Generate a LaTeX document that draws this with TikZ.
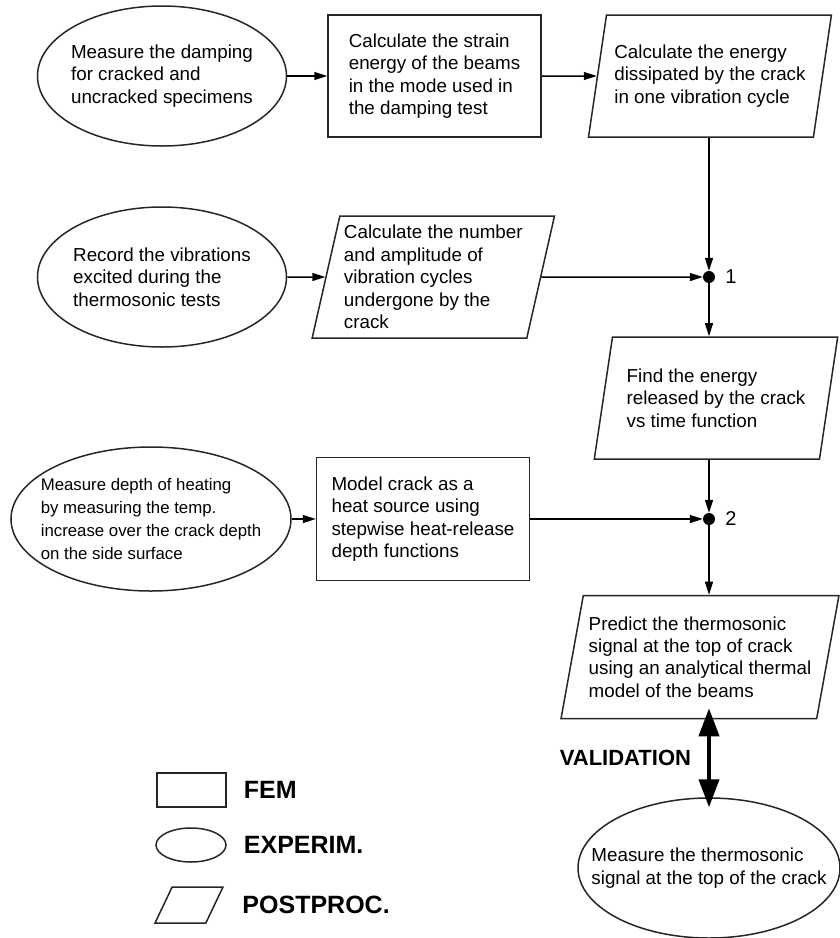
\documentclass[tikz,border=0pt]{standalone}
\usepackage{fontspec}
\setmainfont{Liberation Sans}
\usetikzlibrary{positioning,shapes.geometric,arrows.meta}
\tikzstyle{FemBox}=[rectangle, draw=black!85, line width=1.5pt, minimum width=213pt, minimum height=122pt, align=left, font=\fontsize{18.8}{22.4}\selectfont]
\tikzstyle{ExpOval}=[ellipse, draw=black!85, line width=1.5pt, minimum width=249pt, minimum height=140pt, inner xsep=-26pt, inner ysep=0pt, align=left, font=\fontsize{18.8}{22.4}\selectfont]
\tikzstyle{PostPara}=[trapezium, trapezium left angle=76, trapezium right angle=104, trapezium stretches=true, draw=black!85, line width=1.5pt, minimum width=243pt, minimum height=122pt, align=left, font=\fontsize{18.8}{22.4}\selectfont]
\tikzstyle{Junction}=[circle, fill=black, inner sep=0pt, minimum size=12pt]
\tikzstyle{JunctionNum}=[inner sep=0pt, font=\fontsize{20}{24}\selectfont]
\tikzstyle{Flow}=[-{Triangle[length=13pt,width=8pt]}, line width=1.5pt]
\tikzstyle{Validation}=[{Triangle[length=28pt,width=20pt]}-{Triangle[length=28pt,width=20pt]}, line width=4pt]
\tikzstyle{LegendText}=[inner sep=0pt, font=\fontsize{25}{30}\selectfont\bfseries]

\begin{document}
\begin{tikzpicture}[x=1pt,y=1pt]
			\useasboundingbox (0,0) rectangle (840,-938);

			%Nodos
			\node[ExpOval]		(damping)		at (162,-76)				{Measure the damping\\for cracked and\\uncracked specimens};
			\node[FemBox]		(strain)		[right=40pt of damping]		{Calculate the strain\\energy of the beams\\in the mode used in\\the damping test};
			\node[PostPara]		(dissipated)	[right=55pt of strain]		{Calculate the energy\\dissipated by the crack\\in one vibration cycle};

			\node[ExpOval]		(vibrations)	at (162,-277)				{Record the vibrations\\excited during the\\thermosonic tests};
			\node[PostPara]		(cycles)		[right=38pt of vibrations]	{Calculate the number\\and amplitude of\\vibration cycles\\undergone by the\\crack};
			\node[Junction]		(join1)			at (709,-277)				{};
			\node[JunctionNum]	(join1num)		[right=10pt of join1]		{1};

			\node[PostPara, minimum width=244pt]	(released)	at (716,-398)	{Find the energy\\released by the crack\\vs time function};

			\node[ExpOval, minimum width=280pt, minimum height=144pt, font=\fontsize{16.8}{22.7}\selectfont]	(heating)	at (151,-519)	{Measure depth of heating\\by measuring the temp.\\increase over the crack depth\\on the side surface};
			\node[FemBox, minimum height=123pt]	(heatsource)	[right=24pt of heating]	{Model crack as a\\heat source using\\stepwise heat-release\\depth functions};
			\node[Junction]		(join2)			at (709,-519)				{};
			\node[JunctionNum]	(join2num)		[right=10pt of join2]		{2};

			\node[PostPara, minimum width=278pt, minimum height=123pt]	(predict)	at (700,-657)	{Predict the thermosonic\\signal at the top of crack\\using an analytical thermal\\model of the beams};
			\node[ExpOval, minimum width=262pt]	(signal)	at (709,-868)	{Measure the thermosonic\\signal at the top of the crack};

			%Leyenda
			\node[FemBox, minimum width=69pt, minimum height=34pt]	(legfem)	at (191.5,-790)	{};
			\node[LegendText]	(legfemtxt)		[right=17pt of legfem]		{FEM};
			\node[ExpOval, minimum width=70pt, minimum height=34pt]	(legexp)	at (191,-845)	{};
			\node[LegendText]	(legexptxt)		[right=17pt of legexp]		{EXPERIM.};
			\node[PostPara, minimum width=68pt, minimum height=36pt, trapezium left angle=63, trapezium right angle=117]	(legpost)	at (189,-905)	{};
			\node[LegendText]	(legposttxt)	[right=27pt of legpost]		{POSTPROC.};

			%Lineas
			\draw[Flow] (damping) -- (strain);
			\draw[Flow] (strain) -- (dissipated);
			\draw[Flow] (vibrations) -- (cycles);
			\draw[Flow] (heating) -- (heatsource);
			\draw[Flow] (dissipated.south -| join1) -- (join1);
			\draw[Flow] (cycles) -- (join1);
			\draw[Flow] (join1) -- (join1 |- released.north);
			\draw[Flow] (released.south -| join2) -- (join2);
			\draw[Flow] (heatsource) -- (join2);
			\draw[Flow] (join2) -- (join2 |- predict.north);
			\draw[Validation, shorten <=-11pt, shorten >=-10pt] (signal.north |- predict.south) -- (signal.north)
				node[midway, left=16pt, inner sep=0pt, font=\fontsize{22}{26}\selectfont\bfseries] (validtxt) {VALIDATION};

		\end{tikzpicture}
\end{document}
